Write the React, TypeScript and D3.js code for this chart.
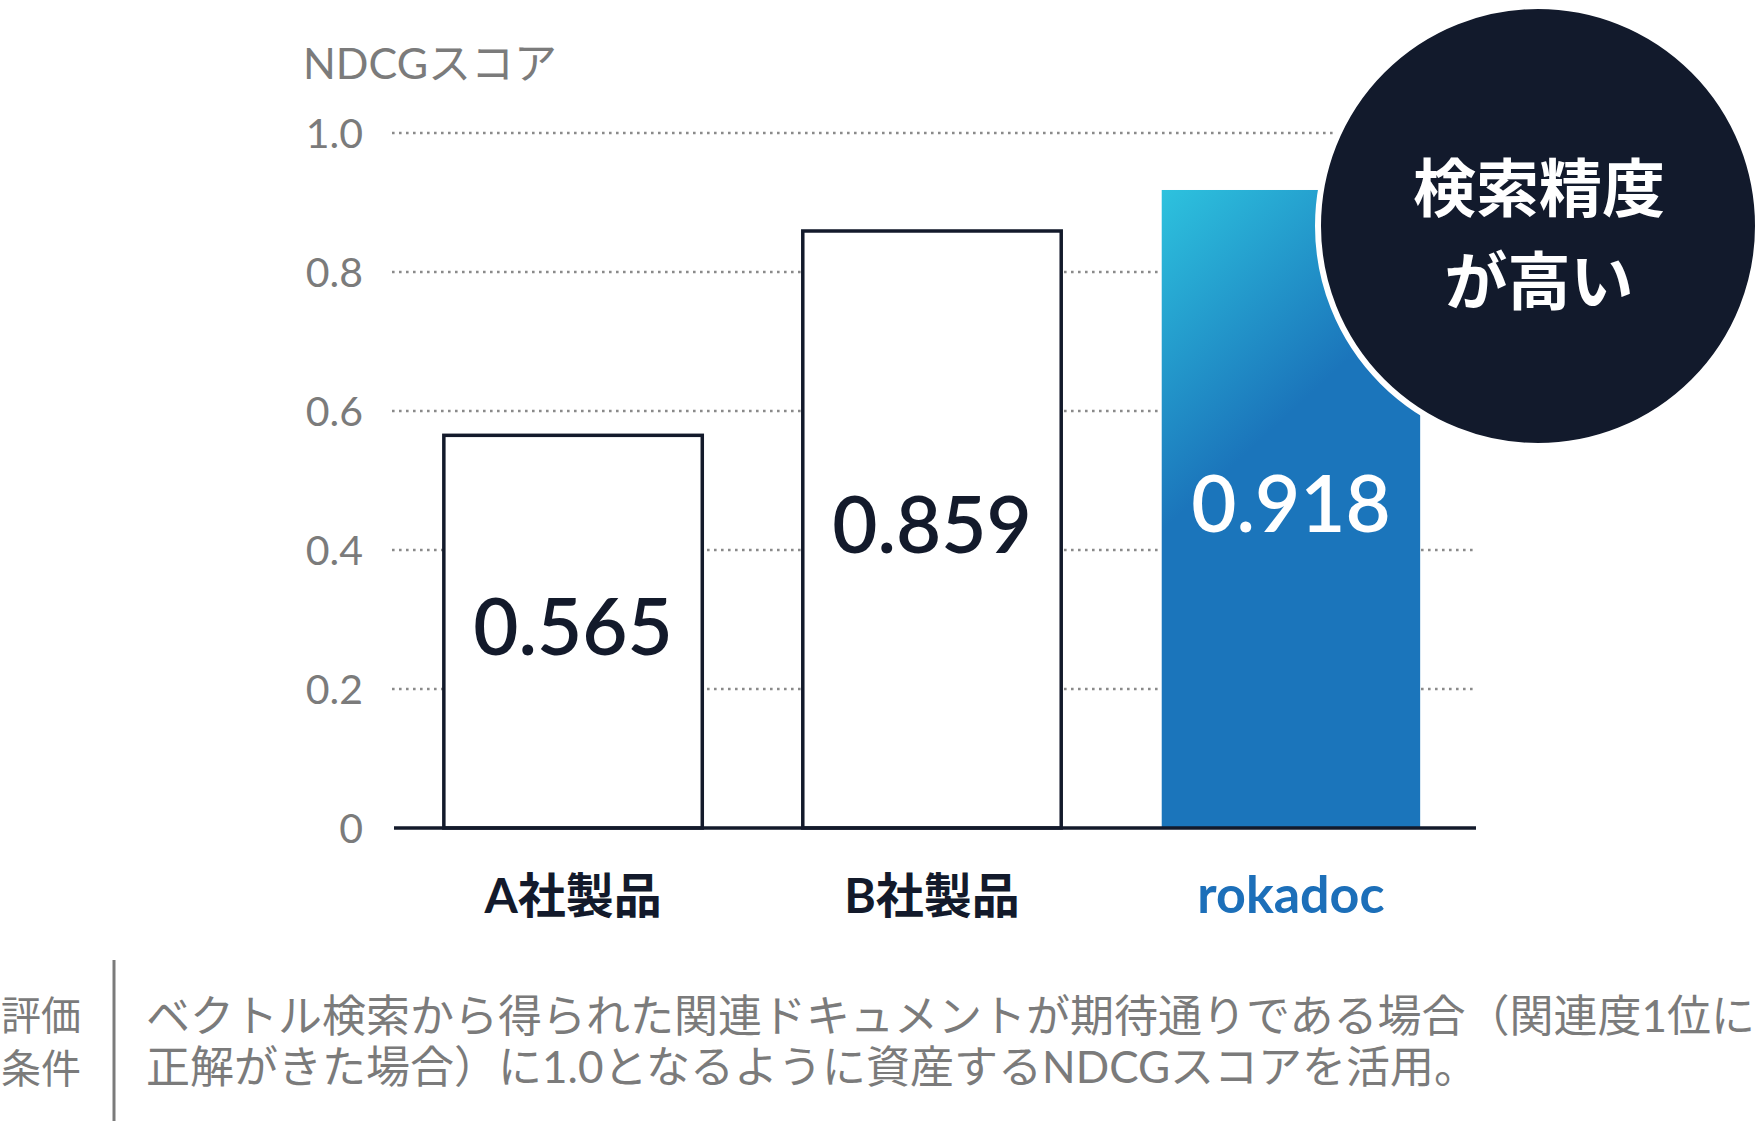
import * as d3 from "d3";

const categories = ["A社製品", "B社製品", "rokadoc"];
const scores = [0.565, 0.859, 0.918];
const valueLabels = ["0.565", "0.859", "0.918"];
const yTicks = [0, 0.2, 0.4, 0.6, 0.8, 1.0];
const yTickLabels = ["0", "0.2", "0.4", "0.6", "0.8", "1.0"];
const axisTitle = "NDCGスコア";
const badgeLines = ["検索精度", "が高い"];
const noteLabel = ["評価", "条件"];
const noteLines = [
  "ベクトル検索から得られた関連ドキュメントが期待通りである場合（関連度1位に",
  "正解がきた場合）に1.0となるように資産するNDCGスコアを活用。",
];

const W = 1760;
const H = 1132;
const FONT = "Lato, 'Noto Sans CJK JP', sans-serif";
const CJK = "'Noto Sans CJK JP', Lato, sans-serif";
const INK = "#131a2b";
const GREY = "#7b7b7b";

export default function App() {
  const x = d3
    .scaleBand<string>()
    .domain(categories)
    .range([390, 1474])
    .paddingInner(0.28)
    .paddingOuter(0.15);

  const y = d3.scaleLinear().domain([0, 1]).range([828, 133]);

  const bw = x.bandwidth();
  const last = categories[categories.length - 1];
  const gx = x(last) ?? 0;
  const gy = y(scores[scores.length - 1]);

  return (
    <div style={{ position: "absolute", left: 0, top: 0 }}>
      <svg width={W} height={H} style={{ display: "block", background: "#fff" }}>
        <defs>
          <linearGradient
            id="roka"
            gradientUnits="userSpaceOnUse"
            x1={gx}
            y1={gy}
            x2={gx + 170}
            y2={gy + 185}
          >
            <stop offset="0" stopColor="#2dc2de" />
            <stop offset="1" stopColor="#1b75bb" />
          </linearGradient>
        </defs>

        {/* axis title */}
        <text x={303} y={79} fontFamily={FONT} fontSize={43} fill={GREY}>
          {axisTitle}
        </text>

        {/* grid + tick labels */}
        {yTicks.map((t, i) => (
          <g key={t}>
            {t > 0 && (
              <line
                x1={392}
                x2={1476}
                y1={y(t)}
                y2={y(t)}
                stroke="#8a8a8a"
                strokeWidth={2.6}
                strokeDasharray="2.6 4.4"
              />
            )}
            <text
              x={363}
              y={y(t)}
              dy="0.36em"
              textAnchor="end"
              fontFamily={FONT}
              fontSize={41}
              fill={GREY}
            >
              {yTickLabels[i]}
            </text>
          </g>
        ))}

        {/* bars */}
        {categories.map((c, i) => {
          const highlight = i === categories.length - 1;
          const x0 = x(c) ?? 0;
          const top = y(scores[i]);
          return (
            <g key={c}>
              <rect
                x={x0}
                y={top}
                width={bw}
                height={y(0) - top}
                fill={highlight ? "url(#roka)" : "#fff"}
                stroke={highlight ? "none" : INK}
                strokeWidth={3.5}
              />
              <text
                x={x0 + bw / 2}
                y={(top + y(0)) / 2}
                dy="0.3em"
                textAnchor="middle"
                fontFamily={FONT}
                fontSize={78}
                fontWeight={600}
                fill={highlight ? "#fff" : INK}
              >
                {valueLabels[i]}
              </text>
              <text
                x={x0 + bw / 2}
                y={913}
                textAnchor="middle"
                fontFamily={FONT}
                fontSize={highlight ? 52 : 48}
                fontWeight={700}
                fill={highlight ? "#1c6fb9" : INK}
              >
                {c}
              </text>
            </g>
          );
        })}

        {/* baseline */}
        <line x1={394} x2={1476} y1={y(0)} y2={y(0)} stroke={INK} strokeWidth={3.5} />

        {/* badge */}
        <circle cx={1538} cy={226} r={220} fill="#121a2c" stroke="#fff" strokeWidth={6} />
        {badgeLines.map((l, i) => (
          <text
            key={l}
            x={1539}
            y={211 + i * 93}
            textAnchor="middle"
            fontFamily={CJK}
            fontSize={63}
            fontWeight={700}
            fill="#fff"
          >
            {l}
          </text>
        ))}

        {/* note */}
        <line x1={114} x2={114} y1={960} y2={1121} stroke={GREY} strokeWidth={3} />
        {noteLabel.map((l, i) => (
          <text key={l} x={1} y={1030 + i * 53} fontFamily={CJK} fontSize={40} fill={GREY}>
            {l}
          </text>
        ))}
        {noteLines.map((l, i) => (
          <text key={i} x={146} y={1032 + i * 51} fontFamily={FONT} fontSize={44} fill={GREY}>
            {l}
          </text>
        ))}
      </svg>
    </div>
  );
}
